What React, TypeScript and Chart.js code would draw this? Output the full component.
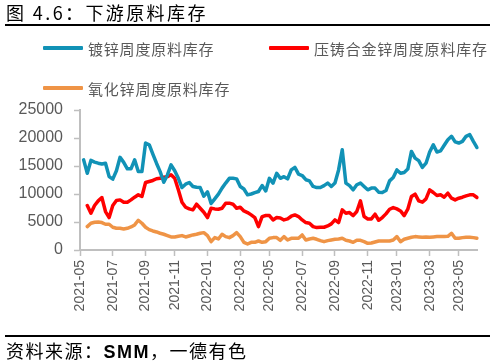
import React, { useEffect, useRef } from "react";
import { Chart, registerables } from "chart.js";

Chart.register(...registerables);

// weekly categories, first week 2021-04-30 (no data), last 2023-06-02
const startDate = "2021-04-30";
const weekCount = 110;
const categories: string[] = (() => {
  const out: string[] = [];
  const d0 = new Date(startDate + "T00:00:00Z").getTime();
  for (let i = 0; i < weekCount; i++) {
    out.push(new Date(d0 + i * 7 * 86400000).toISOString().slice(0, 10));
  }
  return out;
})();

const tickMonths = [
  "2021-05", "2021-07", "2021-09", "2021-11", "2022-01", "2022-03", "2022-05",
  "2022-07", "2022-09", "2022-11", "2023-01", "2023-03", "2023-05",
];

const seriesNames = ["镀锌周度原料库存", "压铸合金锌周度原料库存", "氧化锌周度原料库存"];
const seriesColors = ["#1192b6", "#ff0000", "#ef9446"];

const galvanizing = [
  null,
  16100, 13700, 16000, 15700, 15500, 15350, 15500, 13100, 12650, 14150,
  16550, 15650, 14500, 14500, 16100, 14000, 14000, 19100, 18800, 17100,
  15500, 14000, 12100, 13400, 15200, 14150, 12800, 11150, 11750, 12050,
  11350, 11200, 11150, 9600, 10400, 8300, 9130, 9970, 11050, 11950,
  12800, 12800, 12700, 11350, 10900, 9850, 10000, 10250, 10450, 11500,
  10550, 12800, 11950, 13700, 12800, 13100, 12700, 14300, 14750, 13550,
  13300, 12550, 12350, 11350, 11150, 11150, 11500, 11950, 11350, 11950,
  14300, 17900, 11950, 11500, 10750, 11650, 11950, 11350, 10750, 11050,
  11050, 10330, 10270, 10620, 12350, 12950, 14300, 13700, 13850, 14450,
  17600, 16400, 15950, 14750, 15500, 17500, 18800, 17500, 17700, 18700,
  19700, 20300, 19300, 19100, 19400, 20300, 20600, 19400, 18300,
];

const dieCasting = [
  null, null,
  7940, 6570, 7940, 8780, 9370, 6870, 5790, 7940, 8840,
  8950, 8540, 8540, 8950, 9430, 9850, 9550, 12060, 12240, 12420,
  12720, 12800, 13000, 13100, 13430, 12800, 10750, 8540, 7640, 7340,
  7160, 8180, 7460, 6750, 5790, 7460, 7340, 7280, 7460, 8360,
  8360, 8180, 7460, 7640, 6980, 6690, 6270, 5790, 4180, 5970,
  6150, 6150, 5370, 5790, 5730, 5370, 5550, 6030, 6270, 5970,
  5370, 4900, 4780, 4180, 4000, 4060, 4060, 4300, 4660, 5370,
  4900, 7160, 6570, 6690, 6150, 6870, 8780, 5970, 5550, 5550,
  6390, 5310, 5790, 6450, 7280, 7580, 7340, 6980, 6150, 7280,
  9550, 9970, 8780, 8540, 9130, 10750, 10270, 9730, 9850, 9430,
  10150, 9250, 8950, 9250, 9430, 9670, 9850, 9850, 9370,
];

const zincOxide = [
  null, null,
  4180, 4780, 4960, 5010, 4900, 4600, 4600, 4060, 3880,
  3880, 3760, 3880, 4120, 4480, 5310, 4780, 4060, 3640, 3400,
  3220, 2990, 2810, 2570, 2330, 2330, 2450, 2570, 2330, 2510,
  2690, 2810, 2990, 3100, 2570, 1490, 2210, 1970, 2810, 2390,
  2210, 2570, 3100, 2390, 1370, 1070, 1370, 1370, 1610, 1370,
  1490, 2090, 2210, 2210, 1730, 2390, 1790, 2090, 2090, 2090,
  2690, 1790, 1970, 2090, 1910, 1670, 1490, 1670, 1790, 1910,
  1970, 2090, 1730, 1610, 1370, 1730, 1730, 1490, 1190, 1250,
  1430, 1610, 1610, 1610, 1610, 1790, 2390, 1490, 1910, 2090,
  2270, 2390, 2330, 2270, 2330, 2270, 2330, 2390, 2390, 2390,
  2450, 2990, 2090, 2090, 2210, 2270, 2270, 2210, 2090,
];

const yTicks = [0, 5000, 10000, 15000, 20000, 25000];

function nearestIndex(month: string): number {
  const target = new Date(month + "-01T00:00:00Z").getTime();
  let best = 0;
  let bestDiff = Infinity;
  categories.forEach((c, i) => {
    const diff = Math.abs(new Date(c + "T00:00:00Z").getTime() - target);
    if (diff < bestDiff) {
      bestDiff = diff;
      best = i;
    }
  });
  return best;
}

const CJK = '"Noto Sans CJK SC", "Noto Sans", sans-serif';

export default function App() {
  const ref = useRef<HTMLCanvasElement | null>(null);

  useEffect(() => {
    if (!ref.current) return;
    const tickIdx = tickMonths.map(nearestIndex);
    const axisGrey = "#bfbfbf";
    const chart = new Chart(ref.current, {
      type: "line",
      data: {
        labels: categories,
        datasets: [galvanizing, dieCasting, zincOxide].map((d, k) => ({
          label: seriesNames[k],
          data: d,
          borderColor: seriesColors[k],
          backgroundColor: seriesColors[k],
          borderWidth: 3.5,
          pointRadius: 0,
          tension: 0,
          borderJoinStyle: "round" as const,
          borderCapStyle: "round" as const,
          spanGaps: false,
        })),
      },
      options: {
        animation: false,
        responsive: false,
        layout: { padding: { top: 110, right: 16, left: 0, bottom: 0 } },
        plugins: { legend: { display: false }, tooltip: { enabled: false } },
        scales: {
          x: {
            type: "category",
            afterBuildTicks: (scale: any) => {
              scale.ticks = tickIdx.map((v) => ({ value: v }));
            },
            afterFit: (scale: any) => {
              scale.height = 113;
            },
            ticks: {
              autoSkip: false,
              maxRotation: 90,
              minRotation: 90,
              padding: 4,
              color: "#595959",
              font: { family: '"Liberation Sans", Arial, sans-serif', size: 14 },
              callback: (v: any) => {
                const j = tickIdx.indexOf(Number(v));
                return j >= 0 ? tickMonths[j] : null;
              },
            },
            grid: {
              drawOnChartArea: false,
              drawTicks: true,
              tickLength: 6,
              tickColor: axisGrey,
              tickWidth: 1.5,
            },
            border: { color: axisGrey, width: 2 },
          },
          y: {
            min: 0,
            max: 25000,
            afterBuildTicks: (scale: any) => {
              scale.ticks = yTicks.map((v) => ({ value: v }));
            },
            afterFit: (scale: any) => {
              scale.width = 80;
            },
            ticks: {
              padding: 11,
              color: "#595959",
              font: { family: '"Liberation Sans", Arial, sans-serif', size: 16 },
              callback: (v: any) => String(v),
            },
            grid: {
              drawOnChartArea: false,
              drawTicks: true,
              tickLength: 6,
              tickColor: axisGrey,
              tickWidth: 1.5,
            },
            border: { color: axisGrey, width: 2 },
          },
        },
      },
    });
    return () => chart.destroy();
  }, []);

  const legendItem = (k: number, left: number, top: number) => (
    <div
      key={k}
      style={{ position: "absolute", left, top, height: 20, display: "flex", alignItems: "center" }}
    >
      <div style={{ width: 40, height: 4, background: seriesColors[k], borderRadius: 1 }} />
      <span
        style={{
          marginLeft: 5,
          fontFamily: CJK,
          fontSize: 15,
          letterSpacing: 0.8,
          color: "#595959",
          whiteSpace: "nowrap",
        }}
      >
        {seriesNames[k]}
      </span>
    </div>
  );

  return (
    <div
      style={{
        position: "fixed",
        left: 0,
        top: 0,
        width: 493,
        height: 363,
        background: "#fff",
        overflow: "hidden",
      }}
    >
      <canvas
        ref={ref}
        width={493}
        height={363}
        style={{ position: "absolute", left: 0, top: 0, width: 493, height: 363 }}
      />
      <div
        style={{
          position: "absolute",
          left: 6,
          top: 0,
          fontFamily: CJK,
          fontSize: 18,
          letterSpacing: 2.4,
          color: "#000",
          lineHeight: "24px",
          whiteSpace: "nowrap",
        }}
      >
        图 4.6：下游原料库存
      </div>
      <div style={{ position: "absolute", left: 5, top: 24, width: 485, height: 2, background: "#000" }} />
      {legendItem(0, 43, 38)}
      {legendItem(1, 269, 38)}
      {legendItem(2, 43, 78)}
      <div style={{ position: "absolute", left: 5, top: 335, width: 485, height: 2, background: "#000" }} />
      <div
        style={{
          position: "absolute",
          left: 6,
          top: 338,
          fontFamily: CJK,
          fontSize: 18,
          letterSpacing: 1.5,
          color: "#000",
          lineHeight: "24px",
          whiteSpace: "nowrap",
        }}
      >
        资料来源：<b style={{ fontFamily: '"Liberation Sans Narrow", "Liberation Sans", sans-serif' }}>SMM</b>，一德有色
      </div>
    </div>
  );
}
